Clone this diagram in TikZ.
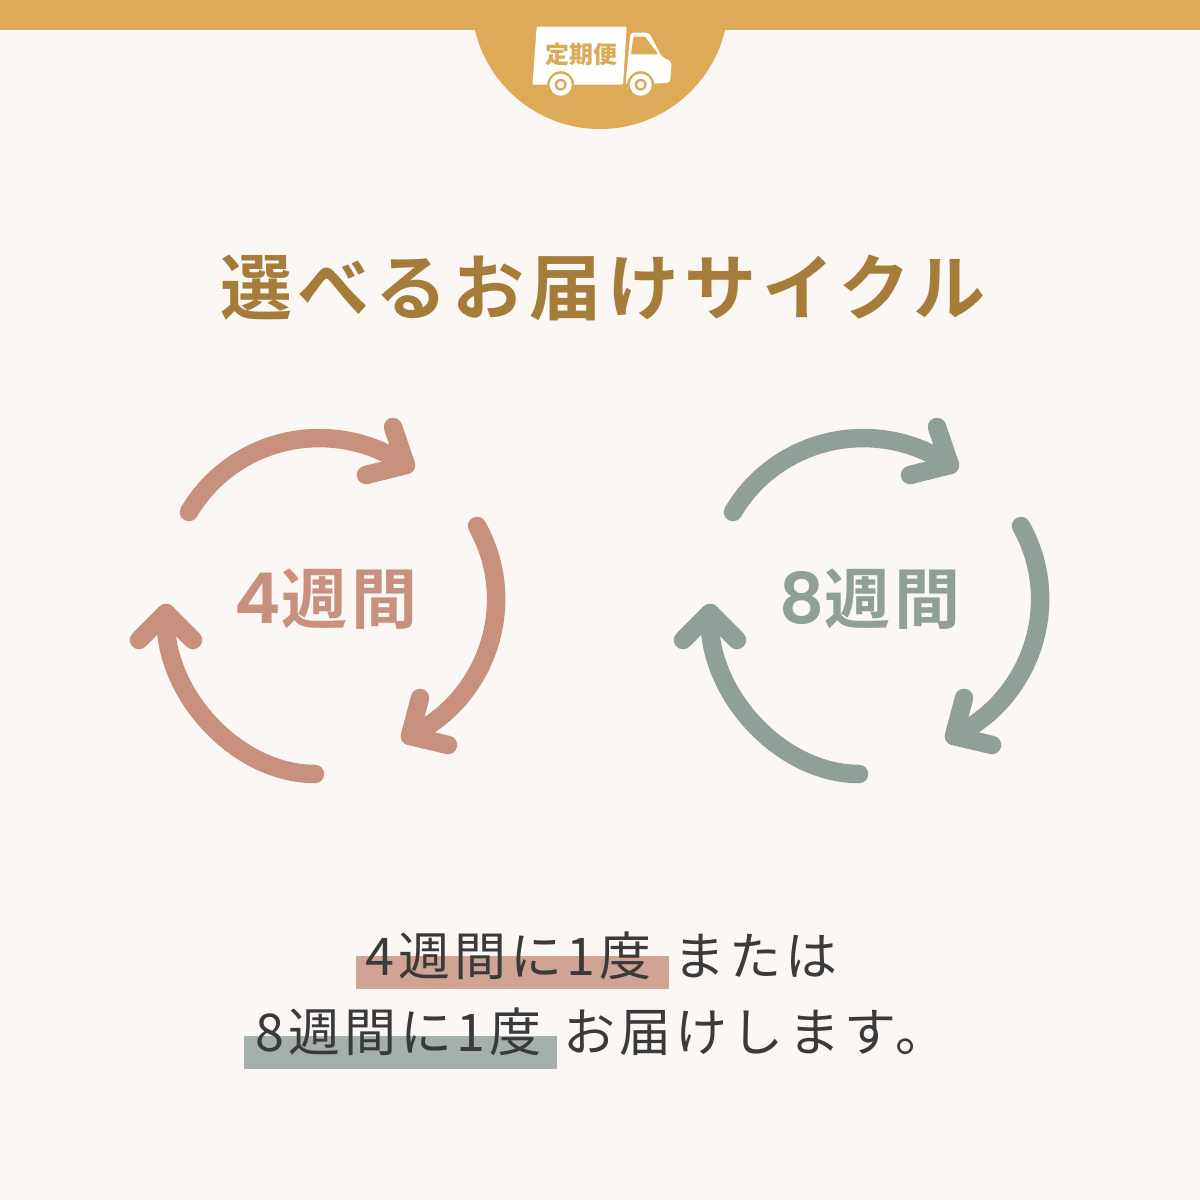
\documentclass[tikz,border=0pt]{standalone}
\usepackage{fontspec}
\setmainfont{Noto Sans CJK JP}
\newfontfamily\bodyfont[LetterSpace=8]{Noto Sans CJK JP}
\newfontfamily\titlefont[LetterSpace=7.6]{Noto Sans CJK JP Bold}
\newfontfamily\weekfont[LetterSpace=6]{Noto Sans CJK JP Bold}
\newfontfamily\digitfont{Poppins SemiBold}
\definecolor{paper}{HTML}{FBF7F4}
\definecolor{gold}{HTML}{DDAA58}
\definecolor{titlebrown}{HTML}{A67C3B}
\definecolor{rose}{HTML}{C8917E}
\definecolor{sage}{HTML}{919F99}
\definecolor{roselight}{HTML}{D0A395}
\definecolor{sagelight}{HTML}{A5AFAB}
\definecolor{ink}{HTML}{3A3A3A}
\tikzset{
  cyclearrow/.style={line width=18.5pt,line cap=round,line join=round},
  weeklabel/.style={font=\fontsize{66}{66}\selectfont\weekfont,inner sep=0pt},
  bodyline/.style={font=\fontsize{52}{52}\selectfont\bodyfont,text=ink,inner sep=0pt,anchor=base west},
  hlbox/.style={inner sep=0pt,minimum width=313pt,minimum height=33pt},
}
\newcommand{\cycle}[4]{%
 \begin{scope}[shift={(#2,0)}]
   \coordinate (#1a) at (189,512);
   \coordinate (#1b) at (406,465);
   \coordinate (#1c) at (477,526);
   \coordinate (#1d) at (410,736);
   \coordinate (#1e) at (315,774);
   \coordinate (#1f) at (166,613);
   \draw[cyclearrow,#3] (#1a) .. controls (233.6,436.7) and (333.2,415.1) .. (#1b);
   \draw[cyclearrow,#3] (393,427) -- (#1b) -- (366,475);
   \draw[cyclearrow,#3] (#1c) .. controls (519.9,602.5) and (487.8,698.9) .. (#1d);
   \draw[cyclearrow,#3] (420,698) -- (#1d) -- (448,745);
   \draw[cyclearrow,#3] (#1e) .. controls (235.7,774) and (160.8,691.3) .. (#1f);
   \draw[cyclearrow,#3] (139,640) -- (#1f) -- (193,640);
   \node (#1label) [weeklabel,text=#3] at (326,599) {{\digitfont\fontsize{70}{70}\selectfont #4}週間};
 \end{scope}
}

\begin{document}
\begin{tikzpicture}[x=1pt,y=-1pt]
   \useasboundingbox (0,0) rectangle (1200,1200);
   \fill[paper] (0,0) rectangle (1200,1200);
   \fill[gold] (0,0) rectangle (1200,30);
   \fill[gold] (600,0.6) circle (128.4);
   % truck
   \fill[white,rounded corners=1pt] (536.7,26.7) -- (626.7,26.7) -- (623,84.5) -- (532.5,84.5) -- cycle;
   \fill[white,rounded corners=3pt] (630.5,32.7) -- (649,32.7) -- (661.7,56.7) -- (671.7,61.7) -- (670,82.7) -- (625.5,85) -- cycle;
   \fill[gold,rounded corners=1pt] (633.3,36.7) -- (645,36.7) -- (658.3,54.3) -- (631,54.3) -- cycle;
   \foreach \wx in {560.7,640.7}{
     \fill[gold] (\wx,84.7) circle (13.5);
     \fill[white] (\wx,84.7) circle (11);
     \fill[gold] (\wx,84.7) circle (6);
     \fill[white] (\wx,84.7) circle (3.5);
   }
   \node (truckname) [font=\fontsize{24}{24}\selectfont\bfseries,text=gold,inner sep=0pt] at (581,54) {定期便};
   \node (title) [font=\fontsize{72}{72}\selectfont\titlefont,text=titlebrown,inner sep=0pt] at (603,288) {選べるお届けサイクル};
   \cycle{four}{0}{rose}{4}
   \cycle{eight}{544}{sage}{8}
   \node (hlfour) [hlbox,fill=roselight] at (512.5,972.5) {};
   \node (hleight) [hlbox,fill=sagelight] at (400,1052) {};
   \node (linefour) [bodyline] at (365,975) {4週間に1度\hspace{6pt} または};
   \node (lineeight) [bodyline] at (255,1051) {8週間に1度\hspace{6pt} お届けします。};
\end{tikzpicture}
\end{document}
